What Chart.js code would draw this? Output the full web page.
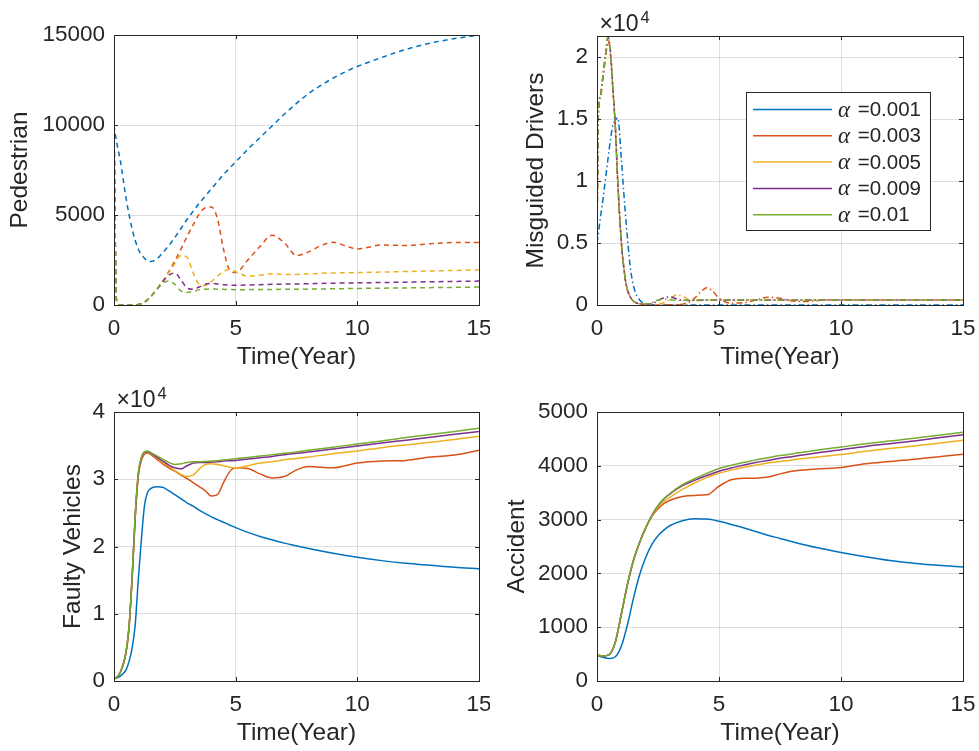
<!DOCTYPE html>
<html>
<head>
<meta charset="utf-8">
<script src="https://cdn.jsdelivr.net/npm/chart.js@4.4.1/dist/chart.umd.min.js"></script>
<style>
  html, body { margin: 0; padding: 0; background: #fff; }
  #page { position: relative; width: 979px; height: 751px; overflow: hidden; background: #fff; }
  #page canvas { position: absolute; }
</style>
</head>
<body>
<div id="page">
  <canvas id="ped" width="490" height="375" style="left:0;top:0"></canvas>
  <canvas id="drv" width="489" height="375" style="left:490px;top:0"></canvas>
  <canvas id="veh" width="490" height="376" style="left:0;top:375px"></canvas>
  <canvas id="acc" width="489" height="376" style="left:490px;top:375px"></canvas>
</div>
<script>
// series labels and colours (MATLAB default order)
const alphas = ['0.001', '0.003', '0.005', '0.009', '0.01']
const seriesColors = ['#0072BD', '#D95319', '#EDB120', '#7E2F8E', '#77AC30']
const timeTicks = [0, 5, 10, 15]

// Pedestrian
const pedTime = [0, 0.1, 0.25, 0.5, 0.75, 1, 1.25, 1.5, 1.75, 2, 2.25, 2.5, 2.75, 3, 3.25, 3.5, 3.75, 4, 4.25, 4.5, 4.75, 5, 5.5, 6, 6.5, 7, 7.5, 8, 8.5, 9, 9.5, 10, 11, 12, 13, 14, 15]
const ped001 = [10000, 9100, 8100, 5900, 4200, 3100, 2600, 2420, 2550, 2900, 3300, 3750, 4250, 4750, 5200, 5650, 6050, 6450, 6850, 7250, 7600, 7950, 8650, 9300, 9950, 10600, 11200, 11750, 12200, 12600, 12950, 13250, 13750, 14200, 14550, 14800, 15000]
const ped003 = [10000, 300, 0, 0, 0, 30, 150, 450, 850, 1300, 1850, 2450, 3100, 3800, 4450, 5050, 5400, 5450, 4800, 3100, 1950, 1800, 2500, 3250, 3880, 3450, 2750, 2950, 3300, 3480, 3290, 3110, 3330, 3310, 3400, 3470, 3470]
const ped005 = [10000, 300, 0, 0, 0, 30, 150, 450, 850, 1300, 1800, 2300, 2750, 2650, 1800, 1150, 1080, 1300, 1600, 1850, 1980, 1850, 1600, 1650, 1740, 1700, 1700, 1730, 1760, 1780, 1790, 1800, 1830, 1860, 1890, 1920, 1950]
const ped009 = [10000, 300, 0, 0, 0, 30, 150, 450, 850, 1300, 1650, 1780, 1400, 950, 870, 1000, 1150, 1200, 1170, 1130, 1100, 1100, 1110, 1130, 1150, 1160, 1170, 1180, 1200, 1210, 1220, 1230, 1250, 1270, 1290, 1310, 1330]
const ped01 = [10000, 300, 0, 0, 0, 30, 150, 450, 850, 1200, 1330, 1150, 780, 700, 760, 840, 880, 890, 880, 870, 860, 850, 855, 860, 865, 870, 875, 880, 890, 900, 910, 920, 935, 950, 965, 980, 1000]
const pedTicks = [0, 5000, 10000, 15000]

// Misguided Drivers
const drvTime = [0, 0.05, 0.15, 0.25, 0.35, 0.45, 0.55, 0.65, 0.75, 0.85, 1, 1.1, 1.2, 1.35, 1.5, 1.75, 2, 2.25, 2.5, 2.75, 3, 3.25, 3.5, 3.75, 4, 4.25, 4.5, 4.75, 5, 5.5, 6, 6.5, 7, 7.5, 8, 8.5, 9, 9.5, 10, 11, 12, 13, 14, 15]
const drv001 = [5000, 5700, 7200, 8600, 10200, 11800, 13300, 14500, 14900, 15100, 11700, 9000, 6500, 3300, 1500, 400, 100, 30, 10, 0, 0, 0, 0, 0, 0, 0, 0, 0, 0, 0, 0, 0, 0, 0, 0, 0, 0, 0, 0, 0, 0, 0, 0, 0]
const drv003 = [5000, 15000, 16800, 18400, 19900, 21300, 20200, 17400, 14200, 10000, 5000, 3000, 1600, 700, 300, 100, 30, 0, 0, 10, 20, 30, 60, 200, 550, 1050, 1400, 1100, 550, 150, 180, 400, 630, 550, 320, 280, 350, 430, 430, 400, 400, 400, 400, 400]
const drv005 = [5000, 15200, 17000, 18600, 20200, 21600, 20500, 17500, 14500, 10000, 5000, 3000, 1600, 700, 300, 100, 50, 30, 60, 200, 500, 800, 720, 450, 350, 360, 400, 420, 420, 410, 400, 400, 400, 400, 400, 400, 400, 400, 400, 400, 400, 400, 400, 400]
const drv009 = [5000, 15200, 17000, 18600, 20200, 21600, 20500, 17500, 14500, 10000, 5000, 3000, 1600, 700, 300, 100, 60, 120, 350, 600, 650, 500, 380, 370, 380, 390, 400, 400, 400, 400, 400, 400, 400, 400, 400, 400, 400, 400, 400, 400, 400, 400, 400, 400]
const drv01 = [5000, 15200, 17000, 18600, 20200, 21700, 20500, 17500, 14500, 10000, 5000, 3000, 1600, 700, 300, 100, 80, 200, 400, 480, 420, 380, 370, 380, 390, 400, 400, 400, 400, 400, 400, 400, 400, 400, 400, 400, 400, 400, 400, 400, 400, 400, 400, 400]
const drvTicks = [0, 5000, 10000, 15000, 20000]

// Faulty Vehicles
const vehTime = [0, 0.25, 0.5, 0.625, 0.75, 0.875, 1, 1.125, 1.25, 1.375, 1.5, 1.75, 2, 2.25, 2.5, 2.75, 3, 3.25, 3.5, 3.75, 4, 4.25, 4.5, 4.75, 5, 5.5, 6, 6.5, 7, 7.5, 8, 9, 10, 11, 12, 13, 14, 15]
const veh001 = [300, 700, 1700, 3000, 5000, 8500, 15200, 21000, 26000, 28000, 28600, 28900, 28800, 28300, 27700, 27100, 26500, 26000, 25400, 24900, 24400, 24000, 23600, 23200, 22800, 22100, 21500, 21000, 20500, 20100, 19700, 19000, 18400, 17900, 17500, 17200, 16900, 16700]
const veh003 = [300, 1200, 4400, 8300, 15600, 24400, 30500, 32800, 33700, 33900, 33700, 33000, 32300, 31700, 31200, 30600, 30100, 29500, 28900, 28300, 27500, 27700, 29500, 31100, 31700, 31600, 30800, 30200, 30400, 31400, 31900, 31700, 32400, 32700, 32800, 33300, 33600, 34300]
const veh005 = [300, 1200, 4400, 8300, 15700, 24600, 30700, 33000, 33900, 34000, 33800, 33200, 32500, 31900, 31300, 30700, 30400, 30600, 31500, 32200, 32300, 32200, 32000, 31800, 31700, 32000, 32400, 32600, 32900, 33100, 33300, 33800, 34200, 34700, 35100, 35500, 35900, 36400]
const veh009 = [300, 1200, 4400, 8300, 15700, 24700, 30800, 33100, 34000, 34100, 33900, 33300, 32700, 32100, 31700, 31550, 32000, 32400, 32500, 32500, 32550, 32600, 32700, 32750, 32800, 33000, 33200, 33400, 33650, 33850, 34050, 34500, 34950, 35400, 35800, 36250, 36700, 37100]
const veh01 = [300, 1200, 4500, 8500, 16000, 25000, 31000, 33300, 34100, 34200, 34000, 33500, 33000, 32500, 32200, 32300, 32500, 32600, 32600, 32650, 32700, 32750, 32850, 32950, 33050, 33250, 33450, 33650, 33850, 34050, 34300, 34750, 35250, 35700, 36200, 36650, 37100, 37600]
const vehTicks = [0, 10000, 20000, 30000, 40000]

// Accident
const accTime = [0, 0.25, 0.5, 0.75, 1, 1.25, 1.5, 1.75, 2, 2.25, 2.5, 2.75, 3, 3.5, 4, 4.5, 5, 5.5, 6, 6.5, 7, 7.5, 8, 9, 10, 11, 12, 13, 14, 15]
const acc001 = [480, 440, 418, 450, 650, 1050, 1550, 1980, 2300, 2540, 2700, 2810, 2890, 2980, 3015, 3010, 2970, 2910, 2850, 2780, 2710, 2650, 2590, 2480, 2390, 2310, 2240, 2190, 2150, 2120]
const acc003 = [480, 465, 490, 720, 1250, 1800, 2250, 2580, 2850, 3060, 3200, 3300, 3360, 3430, 3450, 3460, 3620, 3740, 3770, 3770, 3790, 3850, 3900, 3940, 3970, 4040, 4080, 4120, 4170, 4215]
const acc005 = [480, 465, 490, 720, 1250, 1800, 2250, 2580, 2850, 3070, 3240, 3340, 3420, 3560, 3680, 3780, 3860, 3920, 3970, 4010, 4050, 4080, 4110, 4160, 4210, 4270, 4320, 4370, 4420, 4475]
const acc009 = [480, 465, 490, 720, 1250, 1800, 2250, 2580, 2850, 3080, 3260, 3390, 3480, 3630, 3730, 3820, 3900, 3960, 4010, 4060, 4100, 4140, 4170, 4240, 4300, 4360, 4410, 4460, 4520, 4575]
const acc01 = [480, 465, 490, 720, 1250, 1800, 2250, 2580, 2850, 3080, 3260, 3390, 3490, 3650, 3760, 3860, 3950, 4010, 4060, 4110, 4150, 4190, 4220, 4290, 4350, 4410, 4460, 4510, 4570, 4625]
const accTicks = [0, 1000, 2000, 3000, 4000, 5000]

const textColor = '#262626'
const gridColor = 'rgba(38, 38, 38, 0.15)'
Chart.defaults.font.family = '"Liberation Sans", Arial, Helvetica, sans-serif'

// box round the axes, inward ticks and the x10^n label
const matlabAxes = {
    id: 'matlabAxes',
    afterDatasetsDraw(chart, args, opts) {
        const ctx = chart.ctx
        const a = chart.chartArea
        const sx = chart.scales.x
        const sy = chart.scales.y
        ctx.save()
        ctx.strokeStyle = textColor
        ctx.lineWidth = 1
        ctx.setLineDash([])
        ctx.beginPath()
        sx.ticks.forEach(function(tk){
            const px = Math.round(sx.getPixelForValue(tk.value)) + 0.5
            ctx.moveTo(px, a.bottom); ctx.lineTo(px, a.bottom - 4)
            ctx.moveTo(px, a.top); ctx.lineTo(px, a.top + 4)
        })
        sy.ticks.forEach(function(tk){
            const py = Math.round(sy.getPixelForValue(tk.value)) + 0.5
            ctx.moveTo(a.left, py); ctx.lineTo(a.left + 4, py)
            ctx.moveTo(a.right, py); ctx.lineTo(a.right - 4, py)
        })
        ctx.stroke()
        ctx.strokeRect(Math.round(a.left) + 0.5, Math.round(a.top) + 0.5, Math.round(a.right - a.left), Math.round(a.bottom - a.top))
        if (opts && opts.exponent) {
            ctx.fillStyle = textColor
            ctx.textAlign = 'left'
            ctx.textBaseline = 'alphabetic'
            ctx.font = '23px "Liberation Sans"'
            const base = a.top - 5.5
            ctx.fillText('\u00d710', a.left + 2.5, base)
            const w = ctx.measureText('\u00d710').width
            ctx.font = '16.5px "Liberation Sans"'
            ctx.fillText(opts.exponent, a.left + 2.5 + w + 2, base - 8)
        }
        ctx.restore()
    }
}
Chart.register(matlabAxes)

// legend inside the Misguided Drivers axes
const alphaLegend = {
    id: 'alphaLegend',
    afterDraw(chart) {
        const ctx = chart.ctx
        const a = chart.chartArea
        const x0 = Math.round(a.left + 149), y0 = Math.round(a.top + 56)
        const w = 184, h = 138
        ctx.save()
        ctx.fillStyle = '#fff'
        ctx.fillRect(x0, y0, w, h)
        ctx.strokeStyle = textColor
        ctx.lineWidth = 1
        ctx.strokeRect(x0 + 0.5, y0 + 0.5, w, h)
        chart.data.datasets.forEach(function(ds, i){
            const y = y0 + 17.5 + i * 26.3
            ctx.strokeStyle = ds.borderColor
            ctx.lineWidth = 1.5
            ctx.setLineDash([])
            ctx.beginPath()
            ctx.moveTo(x0 + 7, y)
            ctx.lineTo(x0 + 86, y)
            ctx.stroke()
            ctx.fillStyle = textColor
            ctx.textAlign = 'left'
            ctx.textBaseline = 'middle'
            ctx.font = 'italic 23px "Liberation Serif"'
            ctx.fillText(ds.label.slice(0, 1), x0 + 92, y + 1)
            ctx.font = '20.5px "Liberation Sans"'
            ctx.fillText(ds.label.slice(1), x0 + 106, y + 1)
        })
        ctx.restore()
    }
}

function makeDatasets(time, seriesList, dash){
    return seriesList.map(function(values, i){
        return {
            label: '\u03b1 =' + alphas[i],
            data: values.map(function(v, j){ return {x: time[j], y: v} }),
            borderColor: seriesColors[i],
            backgroundColor: seriesColors[i],
            borderWidth: 1.5,
            borderDash: dash,
            pointRadius: 0,
            cubicInterpolationMode: 'monotone',
            fill: false,
            order: seriesList.length - i
        }
    })
}

function makeChart(id, cfg){
    return new Chart(document.getElementById(id), {
        type: 'line',
        data: { datasets: makeDatasets(cfg.time, cfg.series, cfg.dash) },
        options: {
            responsive: false,
            animation: false,
            events: [],
            layout: { padding: { top: cfg.padTop, right: cfg.padRight, left: 0, bottom: 0 } },
            plugins: {
                legend: { display: false },
                tooltip: { enabled: false },
                matlabAxes: { exponent: cfg.exponent }
            },
            scales: {
                x: {
                    type: 'linear', min: 0, max: 15,
                    afterBuildTicks: function(s){ s.ticks = timeTicks.map(function(v){ return {value: v} }) },
                    afterFit: function(s){ s.height = 70; s.paddingLeft = 0; s.paddingRight = 0 },
                    grid: { color: gridColor, drawTicks: false },
                    border: { display: false },
                    ticks: { color: textColor, font: { size: 22.5 }, padding: 10, maxRotation: 0, autoSkip: false,
                        callback: function(v){ return String(v) } },
                    title: { display: true, text: 'Time(Year)', color: textColor, font: { size: 24.5 }, padding: { top: 0, bottom: 2.7 } }
                },
                y: {
                    type: 'linear', min: 0, max: cfg.yMax,
                    afterBuildTicks: function(s){ s.ticks = cfg.yTicks.map(function(v){ return {value: v} }) },
                    afterFit: function(s){ s.width = cfg.yWidth; s.paddingTop = 0; s.paddingBottom = 0 },
                    grid: { color: gridColor, drawTicks: false },
                    border: { display: false },
                    ticks: { color: textColor, font: { size: 22.5 }, padding: 9, callback: cfg.tickFormat },
                    title: { display: true, text: cfg.yTitle, color: textColor, font: { size: 24.5 }, padding: { top: cfg.yTitlePad, bottom: 0 } }
                }
            }
        },
        plugins: cfg.extraPlugins || []
    })
}

const plain = function(v){ return String(v) }
const per1e4 = function(v){ return String(v / 10000) }

makeChart('ped', {
    time: pedTime, series: [ped001, ped003, ped005, ped009, ped01], dash: [5, 4],
    yMax: 15000, yTicks: pedTicks, tickFormat: plain, yTitle: 'Pedestrian', yTitlePad: 5.3,
    padTop: 35, padRight: 11, yWidth: 114
})
makeChart('drv', {
    time: drvTime, series: [drv001, drv003, drv005, drv009, drv01], dash: [6, 3, 1.5, 3],
    yMax: 21700, yTicks: drvTicks, tickFormat: per1e4, yTitle: 'Misguided Drivers', yTitlePad: 32,
    padTop: 36, padRight: 16, yWidth: 107, exponent: '4', extraPlugins: [alphaLegend]
})
makeChart('veh', {
    time: vehTime, series: [veh001, veh003, veh005, veh009, veh01], dash: [],
    yMax: 40000, yTicks: vehTicks, tickFormat: per1e4, yTitle: 'Faulty Vehicles', yTitlePad: 58.6,
    padTop: 37, padRight: 11, yWidth: 114, exponent: '4'
})
makeChart('acc', {
    time: accTime, series: [acc001, acc003, acc005, acc009, acc01], dash: [],
    yMax: 5000, yTicks: accTicks, tickFormat: plain, yTitle: 'Accident', yTitlePad: 12.8,
    padTop: 37, padRight: 16, yWidth: 107
})
</script>
</body>
</html>
